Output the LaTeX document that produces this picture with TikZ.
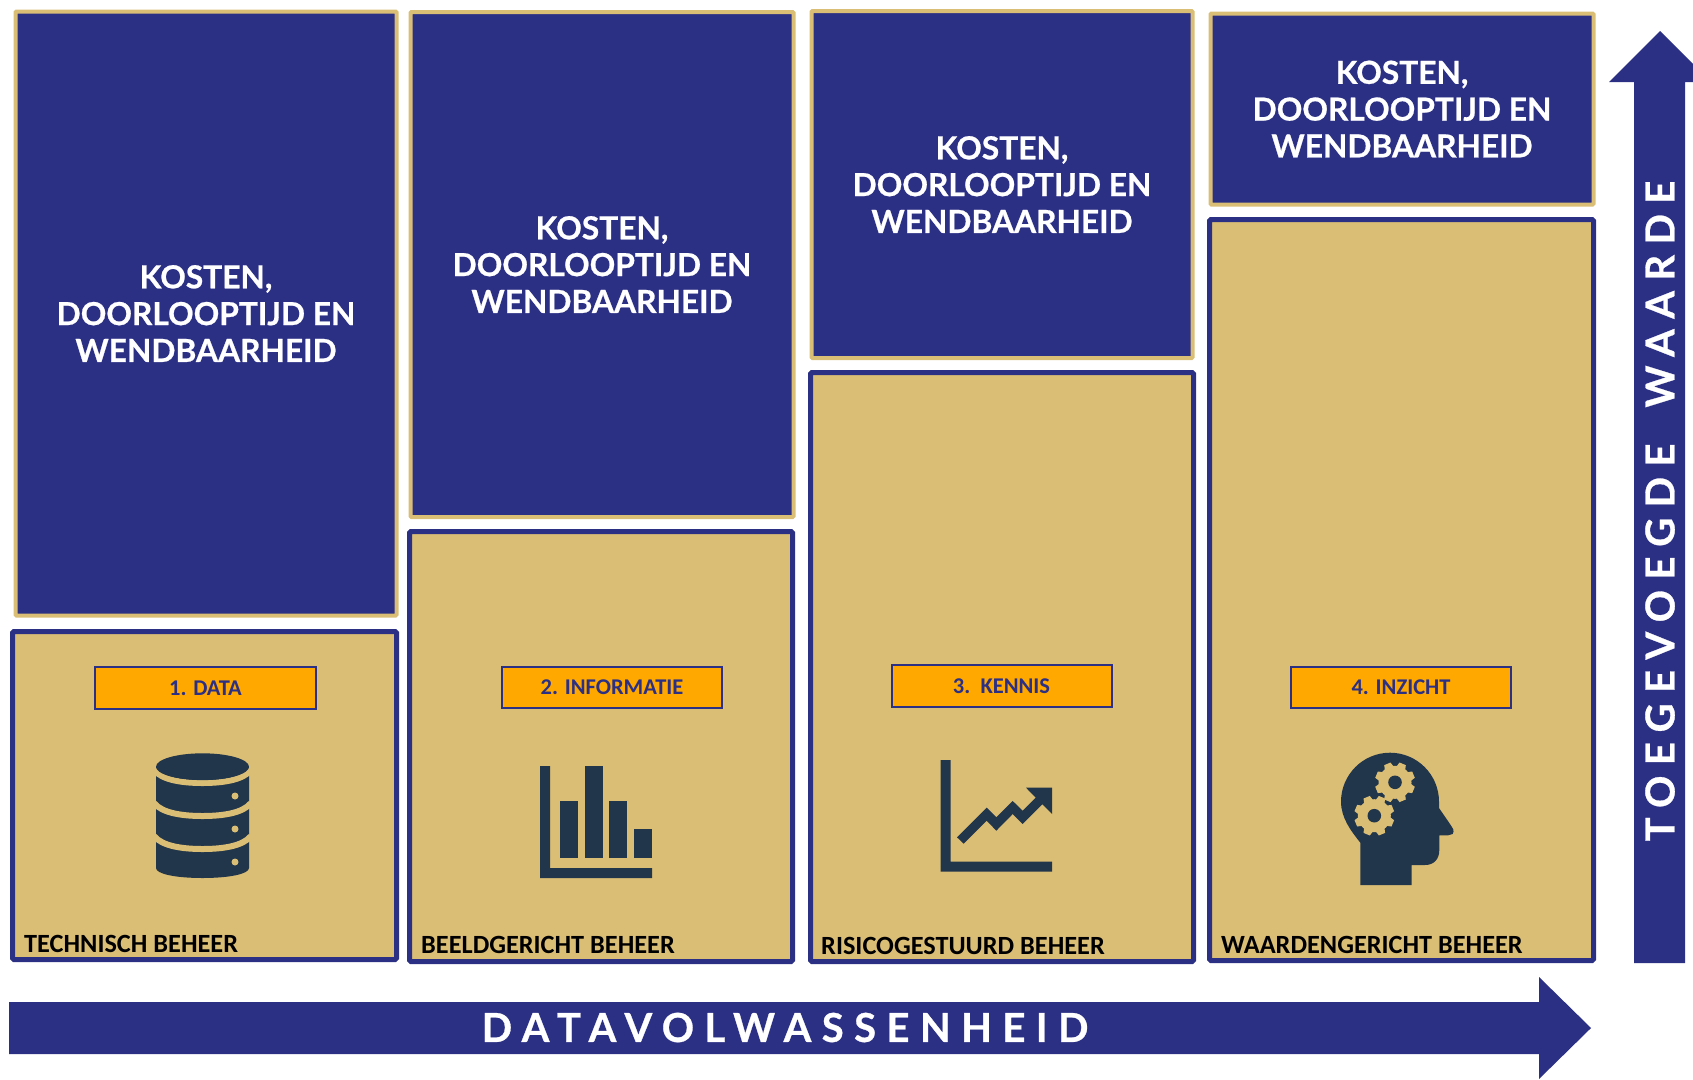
\documentclass[tikz,border=0pt]{standalone}
\usepackage{fontspec}
\setmainfont[BoldFeatures={FakeBold=0.7}]{Lato}
\newfontfamily\calfont{Carlito}
\newfontfamily\arrowfont[LetterSpace=26,BoldFeatures={FakeBold=0.7}]{Lato}
\definecolor{navy}{HTML}{2C3085}
\definecolor{sand}{HTML}{DBBE76}
\definecolor{amber}{HTML}{FFA800}
\definecolor{icon}{HTML}{21354B}
\tikzset{
  costbox/.style={draw=sand,fill=navy,line width=4pt,rounded corners=1pt,inner sep=0pt,text=white,align=center,
    font=\fontsize{31.7}{36.8}\selectfont\bfseries},
  levelbox/.style={draw=navy,fill=sand,line width=5pt,rounded corners=1.5pt,inner sep=0pt},
  tagbox/.style={draw=navy,fill=amber,line width=2pt,inner sep=0pt,text=navy,text depth=0pt,
    font=\fontsize{22.5}{26}\calfont\bfseries},
  mgmt/.style={anchor=base west,inner sep=0pt,text=black,font=\fontsize{26.3}{30}\calfont\bfseries},
  arrowtext/.style={inner sep=0pt,text=white,font=\fontsize{40}{46}\arrowfont\bfseries},
  cog/.pic={
    \fill[sand] (0,0) circle (16.5);
    \foreach \a in {0,45,...,315}{
      \fill[sand,rotate=\a+22.5] (-5,-14) -- (-3.4,-20) -- (3.4,-20) -- (5,-14) -- cycle;
    }
    \fill[icon] (0,0) circle (6.8);
  }
}
\begin{document}
\begin{tikzpicture}[x=1pt,y=-1pt]
\useasboundingbox (0,0) rectangle (1693,1079);
% cost boxes
\node[costbox,minimum width=381pt,minimum height=604pt] (c1) at (206,313.5) {KOSTEN,\\DOORLOOPTIJD EN\\WENDBAARHEID};
\node[costbox,minimum width=383pt,minimum height=505pt] (c2) at (602,264.5) {KOSTEN,\\DOORLOOPTIJD EN\\WENDBAARHEID};
\node[costbox,minimum width=381pt,minimum height=347pt] (c3) at (1002,184.5) {KOSTEN,\\DOORLOOPTIJD EN\\WENDBAARHEID};
\node[costbox,minimum width=383pt,minimum height=191pt] (c4) at (1402,109) {KOSTEN,\\DOORLOOPTIJD EN\\WENDBAARHEID};
% level boxes
\node[levelbox,minimum width=384pt,minimum height=328pt] (l1) at (204.5,795.5) {};
\node[levelbox,minimum width=383pt,minimum height=430pt] (l2) at (601,746.5) {};
\node[levelbox,minimum width=383pt,minimum height=589pt] (l3) at (1002,667) {};
\node[levelbox,minimum width=384pt,minimum height=741pt] (l4) at (1401.5,590) {};
% tags
\node[tagbox,minimum width=221pt,minimum height=42pt] (t1) at (205.5,688) {1. DATA};
\node[tagbox,minimum width=220pt,minimum height=41pt] (t2) at (612,687.5) {2. INFORMATIE};
\node[tagbox,minimum width=220pt,minimum height=42pt] (t3) at (1001.5,686) {3.\ \ KENNIS};
\node[tagbox,minimum width=220pt,minimum height=41pt] (t4) at (1401,687.5) {4. INZICHT};
% management labels
\node[mgmt] (m1) at (24,952) {TECHNISCH BEHEER};
\node[mgmt] (m2) at (421,953) {BEELDGERICHT BEHEER};
\node[mgmt] (m3) at (821,954) {RISICOGESTUURD BEHEER};
\node[mgmt] (m4) at (1221,953) {WAARDENGERICHT BEHEER};
% big arrows
\fill[navy] (9,1002) -- (1539,1002) -- (1539,977) -- (1591,1028) -- (1539,1079) -- (1539,1054) -- (9,1054) -- cycle;
\fill[navy] (1660,31) -- (1693,64) -- (1693,82) -- (1685,82) -- (1685,963) -- (1634,963) -- (1634,82) -- (1609,82) -- cycle;
\node[arrowtext] (ah) at (785,1027.5) {DATAVOLWASSENHEID};
\node[arrowtext,rotate=90] (av) at (1660,511) {TOEGEVOEGDE\hspace{36pt}WAARDE};
% database icon
\fill[icon] (156,767) -- (156,868) .. controls (156,874) and (176,878) .. (202.5,878)
  .. controls (229,878) and (249,874) .. (249,868) -- (249,767) -- cycle;
\foreach \yy in {770,803,836}{
  \draw[sand,line width=6pt] (154,\yy) .. controls (162,\yy+10) and (182,\yy+13) .. (202.5,\yy+13)
     .. controls (223,\yy+13) and (243,\yy+10) .. (251,\yy);
}
\fill[sand] (152,755) rectangle (155.9,775);
\fill[sand] (249.1,755) rectangle (253,775);
\fill[sand] (155,750) rectangle (250,766);
\fill[icon] (202.5,766.7) ellipse (46.5 and 13.4);
\foreach \yy in {796,829,862}{\fill[sand] (235,\yy) circle (3.5);}
% bar chart icon
\fill[icon] (540,766) -- (550,766) -- (550,868) -- (652,868) -- (652,878) -- (540,878) -- cycle;
\fill[icon] (560,801) rectangle (578,858);
\fill[icon] (584.7,766) rectangle (602.7,858);
\fill[icon] (609.3,801) rectangle (627.3,858);
\fill[icon] (634,829) rectangle (652,858);
% trend icon
\fill[icon] (940.7,760) -- (950.5,760) -- (950.5,861.7) -- (1052,861.7) -- (1052,871.7) -- (940.7,871.7) -- cycle;
\fill[icon] (957,837.3) -- (986.7,807.7) -- (996.3,817.3) -- (1012.7,801) -- (1022.7,810.7) -- (1035.7,797.7)
  -- (1026,787.7) -- (1052,787.7) -- (1052,814) -- (1042.3,804.3) -- (1022.7,824) -- (1012.7,814)
  -- (996.3,830.7) -- (986.7,820.7) -- (963.7,843.7) -- cycle;
% head icon
\fill[icon] (1360.3,885) -- (1360.3,842.7)
  .. controls (1351,831) and (1341,818) .. (1341,801.7)
  .. controls (1341,774.6) and (1363,752.7) .. (1390,752.7)
  .. controls (1417,752.7) and (1439,774.6) .. (1439,801.7)
  .. controls (1439,804) and (1439,806) .. (1439,808)
  -- (1450,824) .. controls (1453,829) and (1454.7,830) .. (1452.7,834)
  .. controls (1451,835) and (1450,835.3) .. (1448,835.3)
  -- (1439.3,835.3) -- (1439.3,850)
  .. controls (1439.3,859) and (1434,865) .. (1425,865)
  -- (1411.7,865) -- (1411.7,885) -- cycle;
\pic at (1395,782.3) {cog};
\pic at (1374.3,815.7) {cog};
\end{tikzpicture}
\end{document}
